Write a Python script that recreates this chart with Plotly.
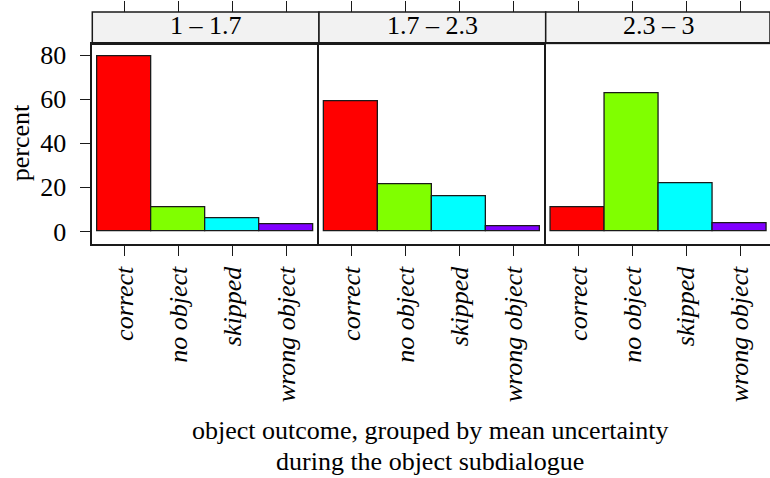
import plotly.graph_objects as go

categories = ["correct", "no object", "skipped", "wrong object"]
panels = ["1 – 1.7", "1.7 – 2.3", "2.3 – 3"]
values = {
    "1 – 1.7": [79.5, 11.0, 5.8, 3.1],
    "1.7 – 2.3": [59.4, 21.5, 16.0, 2.5],
    "2.3 – 3": [10.9, 62.9, 22.1, 3.6],
}
colors = ["#FF0000", "#80FF00", "#00FFFF", "#8000FF"]
yticks = [0, 20, 40, 60, 80]

W, H = 770, 478
FONT = "Liberation Serif, Times New Roman, DejaVu Serif, serif"
FS = 26
LINE = "#1a1a1a"

# pixel layout
px_left = 92.3
panel_w = 226.7
y_top, y_bot = 41.7, 243.7
strip_top = 9.0
unit = panel_w / 4.2

yd = [(H - y_bot) / H, (H - y_top) / H]

fig = go.Figure()
xpos = [1, 2, 3, 4]
for i, p in enumerate(panels):
    sfx = "" if i == 0 else str(i + 1)
    fig.add_trace(go.Bar(
        x=xpos, y=values[p], width=1.0,
        marker=dict(color=colors, line=dict(color=LINE, width=1.3)),
        xaxis="x" + sfx, yaxis="y" + sfx, showlegend=False, hoverinfo="skip",
    ))
    x0 = px_left + i * panel_w
    x1 = min(x0 + panel_w, W)
    rng_hi = 0.4 + (x1 - x0) / unit
    dom = [x0 / W, x1 / W]
    ax = dict(
        domain=dom, range=[0.4, rng_hi], anchor="y" + sfx,
        tickmode="array", tickvals=xpos, ticktext=categories,
        tickangle=-90, ticks="outside", ticklen=11, tickwidth=1.3, tickcolor=LINE,
        tickfont=dict(family=FONT, size=FS, color="black", style="italic"),
        showline=True, linecolor=LINE, linewidth=1.5, mirror=True,
        showgrid=False, zeroline=False, fixedrange=True,
    )
    fig.layout["xaxis" + sfx] = ax
    ay = dict(
        domain=yd, range=[-5.56, 85.07], anchor="x" + sfx,
        showline=True, linecolor=LINE, linewidth=1.5, mirror=False,
        showgrid=False, zeroline=False, fixedrange=True,
    )
    if i == 0:
        ay.update(tickmode="array", tickvals=yticks, ticks="outside", ticklen=11,
                  tickwidth=1.3, tickcolor=LINE, ticklabelstandoff=8,
                  tickfont=dict(family=FONT, size=FS, color="black"))
    else:
        ay.update(showticklabels=False, ticks="")
    fig.layout["yaxis" + sfx] = ay

    # top ticks above strip
    tsfx = str(i + 4)
    fig.layout["xaxis" + tsfx] = dict(
        domain=dom, range=[0.4, rng_hi], overlaying="x" + sfx, anchor="free",
        position=(H - strip_top) / H, side="top",
        tickmode="array", tickvals=xpos, ticks="outside", ticklen=11,
        tickwidth=1.3, tickcolor=LINE, showticklabels=False,
        showline=False, showgrid=False, zeroline=False, fixedrange=True,
    )
    fig.add_trace(go.Scatter(x=[1], y=[0], xaxis="x" + tsfx, yaxis="y" + sfx,
                             mode="markers", marker=dict(opacity=0),
                             showlegend=False, hoverinfo="skip"))

    # strip
    fig.add_shape(type="rect", xref="paper", yref="paper",
                  x0=dom[0], x1=dom[1], y0=(H - y_top) / H, y1=(H - strip_top) / H,
                  fillcolor="#F2F2F2", line=dict(color=LINE, width=1.5), layer="below")
    fig.add_annotation(text=p, xref="paper", yref="paper",
                       x=(x0 + panel_w / 2) / W, y=(H - (strip_top + y_top) / 2 + 2.5) / H,
                       xanchor="center", yanchor="middle", showarrow=False,
                       font=dict(family=FONT, size=FS, color="black"))

fig.add_annotation(text="percent", xref="paper", yref="paper",
                   x=20 / W, y=(H - 142) / H, textangle=-90,
                   xanchor="center", yanchor="middle", showarrow=False,
                   font=dict(family=FONT, size=FS, color="black"))
fig.add_annotation(text="object outcome, grouped by mean uncertainty", xref="paper", yref="paper",
                   x=430 / W, y=(H - 433) / H, xanchor="center", yanchor="middle",
                   showarrow=False, font=dict(family=FONT, size=FS, color="black"))
fig.add_annotation(text="during the object subdialogue", xref="paper", yref="paper",
                   x=430 / W, y=(H - 464) / H, xanchor="center", yanchor="middle",
                   showarrow=False, font=dict(family=FONT, size=FS, color="black"))

fig.update_layout(
    width=W, height=H, margin=dict(l=0, r=0, t=0, b=0),
    paper_bgcolor="white", plot_bgcolor="white", bargap=0,
)
fig.write_html("out.html")
